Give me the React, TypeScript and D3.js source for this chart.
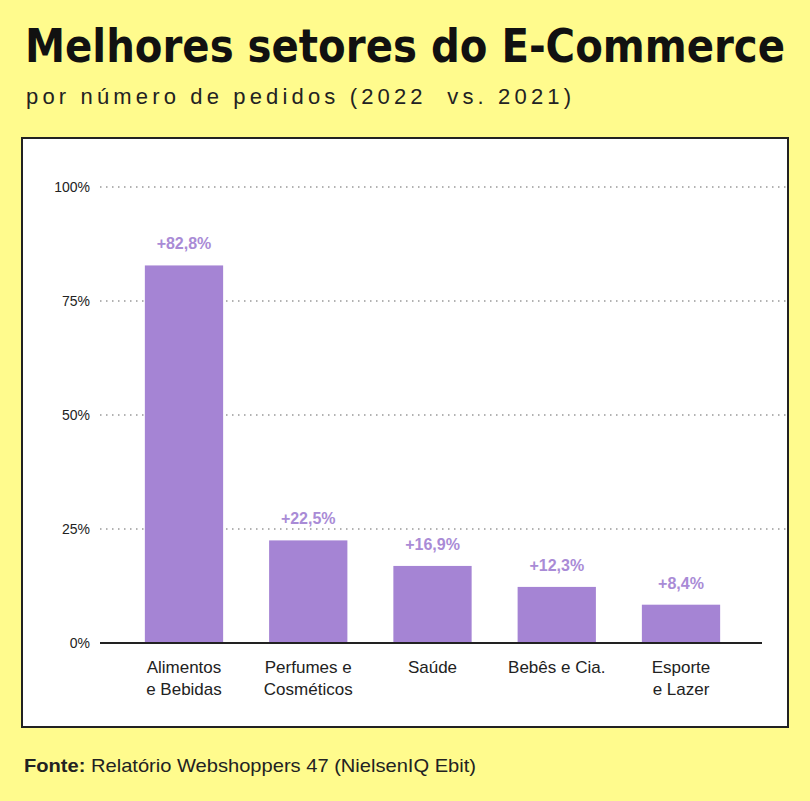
import * as d3 from 'd3';

const categories = [['Alimentos', 'e Bebidas'], ['Perfumes e', 'Cosméticos'], ['Saúde'], ['Bebês e Cia.'], ['Esporte', 'e Lazer']];
const values = [82.8, 22.5, 16.9, 12.3, 8.4];
const valueLabels = ['+82,8%', '+22,5%', '+16,9%', '+12,3%', '+8,4%'];
const yTicks = [0, 25, 50, 75, 100];

const W = 810;
const H = 801;
const font = 'Helvetica, "Liberation Sans", Arial, sans-serif';

export default function App() {
  const x = d3.scaleBand<number>().domain(d3.range(values.length)).range([120, 745]).paddingInner(0.37).paddingOuter(0.2);
  const y = d3.scaleLinear().domain([0, 100]).range([643, 187]);

  return (
    <svg width={W} height={H} style={{ position: 'absolute', left: 0, top: 0 }} fontFamily={font}>
      <rect width={W} height={H} fill="#fffb8d" />
      <text x={25} y={62} fontSize={46} fontWeight="bold" fill="#111" fontFamily='"Liberation Sans Narrow", "DejaVu Sans Condensed", sans-serif' textLength={760} lengthAdjust="spacingAndGlyphs">
        Melhores setores do E-Commerce
      </text>
      <text x={26} y={104} fontSize={22} fill="#222" letterSpacing={1} textLength={546} lengthAdjust="spacing">
        {'por número de pedidos (2022\u00A0\u00A0vs. 2021)'}
      </text>
      <rect x={22} y={138} width={766} height={589} fill="#fff" stroke="#222" strokeWidth={2} />
      {yTicks.map((t) => (
        <g key={t}>
          <text x={90} y={y(t) + 5} textAnchor="end" fontSize={14} fill="#222">{t}%</text>
          {t > 0 && <line x1={100} x2={788} y1={y(t)} y2={y(t)} stroke="#999" strokeWidth={1.5} strokeDasharray="1.5 4.5" />}
        </g>
      ))}
      {values.map((v, i) => (
        <g key={i}>
          <rect x={x(i)} y={y(v)} width={x.bandwidth()} height={y(0) - y(v)} fill="#a584d4" />
          <text x={x(i)! + x.bandwidth() / 2} y={y(v) - 16} textAnchor="middle" fontSize={16} fontWeight="bold" fill="#a98bd6">{valueLabels[i]}</text>
          {categories[i].map((c, j) => (
            <text key={j} x={x(i)! + x.bandwidth() / 2} y={673 + j * 22} textAnchor="middle" fontSize={17} fill="#222">{c}</text>
          ))}
        </g>
      ))}
      <line x1={100} x2={762} y1={y(0)} y2={y(0)} stroke="#222" strokeWidth={2} />
      <text x={24} y={772} fontSize={19} fill="#222" textLength={452} lengthAdjust="spacingAndGlyphs">
        <tspan fontWeight="bold">Fonte:</tspan> Relatório Webshoppers 47 (NielsenIQ Ebit)
      </text>
    </svg>
  );
}
